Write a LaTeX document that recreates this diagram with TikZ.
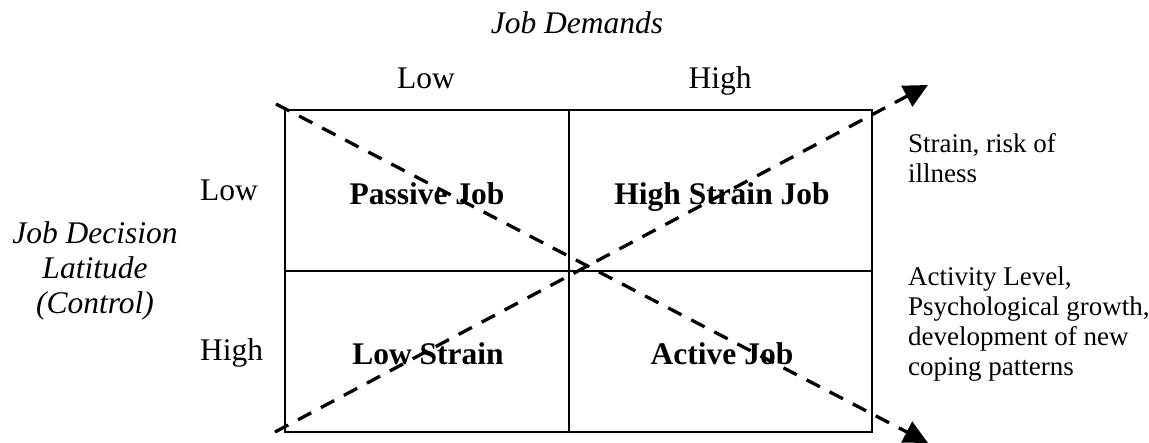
\documentclass[tikz,border=0pt]{standalone}
\usepackage{fontspec}
\setmainfont{Liberation Serif}
\usetikzlibrary{arrows.meta}
\tikzset{
  big/.style={font=\fontsize{31.5}{35}\selectfont, inner sep=0pt},
  small/.style={font=\fontsize{27}{30}\selectfont, inner sep=0pt, align=left},
  cell/.style={big, font=\fontsize{31.5}{35}\selectfont\bfseries, anchor=base},
  gridline/.style={line width=2.2pt},
  dasharrow/.style={line width=3.3pt, dash pattern=on 15pt off 11pt,
    -{Triangle[length=24pt,width=23pt]}}
}
\begin{document}
\begin{tikzpicture}[x=1pt,y=-1pt]
\useasboundingbox (0,0) rectangle (1149,442);
% grid
\coordinate (tl) at (285,110);
\coordinate (br) at (872,432);
\coordinate (mt) at (569,110);
\coordinate (mb) at (569,432);
\coordinate (ml) at (285,271);
\coordinate (mr) at (872,271);
\draw[gridline] (tl) rectangle (br);
\draw[gridline] (mt) -- (mb);
\draw[gridline] (ml) -- (mr);
% labels
\node[big, anchor=base, font=\fontsize{31.5}{35}\selectfont\itshape] (jd) at (577,33) {Job Demands};
\node[big, anchor=base] (lowtop) at (426,88) {Low};
\node[big, anchor=base] (hightop) at (720,88) {High};
\node[big, anchor=base west] (lowleft) at (200,200) {Low};
\node[big, anchor=base west] (highleft) at (200,360) {High};
\node[big, anchor=base, align=center, font=\fontsize{31.5}{35}\selectfont\itshape] (jdl) at (95,313) {Job Decision\\Latitude\\(Control)};
% cells
\node[cell] (passive) at (427,204) {Passive Job};
\node[cell] (highstrain) at (722,204) {High Strain Job};
\node[cell] (lowstrain) at (428,364) {Low Strain};
\node[cell] (active) at (722,364) {Active Job};
% notes
\node[small, anchor=base west] (strain) at (908,182) {Strain, risk of\\illness};
\node[small, anchor=base west] (activity) at (908,375) {Activity Level,\\Psychological growth,\\development of new\\coping patterns};
% arrows
\coordinate (a1s) at (276,104);
\coordinate (a1e) at (928,443);
\coordinate (a2s) at (275,432);
\coordinate (a2e) at (928,85);
\draw[dasharrow] (a1s) -- (a1e);
\draw[dasharrow] (a2s) -- (a2e);
\end{tikzpicture}
\end{document}
